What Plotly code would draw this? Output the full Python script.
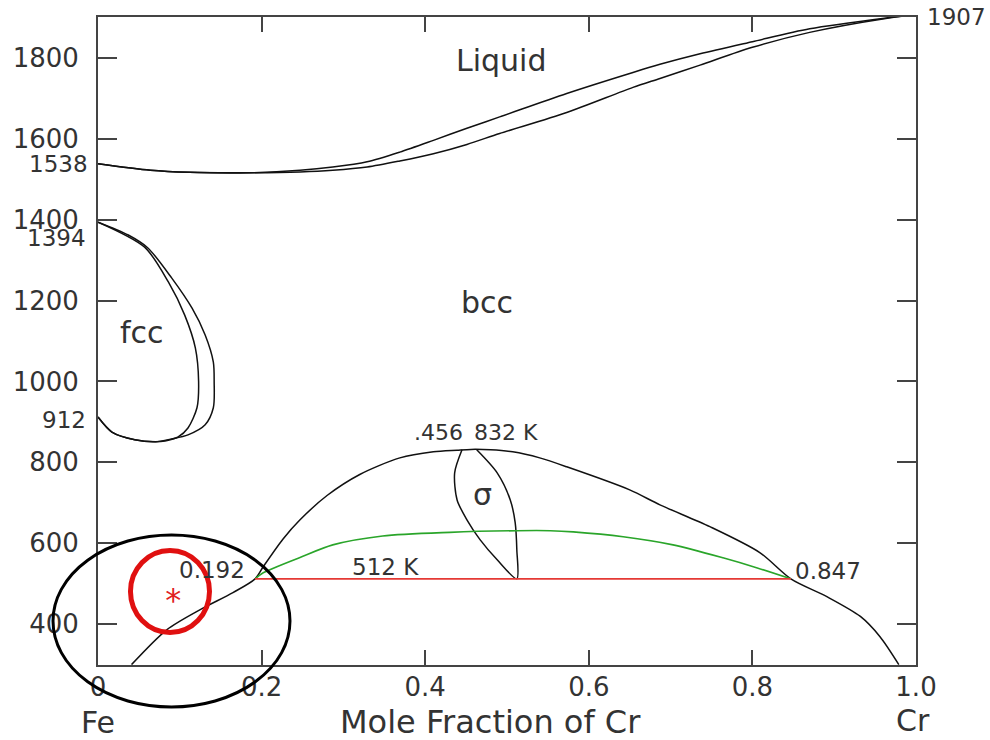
import plotly.graph_objects as go

# ---------------- data ----------------
liq_x = [0, .064, .112, .186, .247, .287, .329, .369, .41, .451, .491, .573, .654, .687, .736, .80, .87, .965, 1.0]
liq_y = [1538, 1522, 1517, 1516, 1522, 1530, 1543, 1567, 1596, 1626, 1654, 1712, 1764, 1784, 1810, 1840, 1872, 1899, 1907]
sol_x = [0, .064, .112, .186, .247, .287, .329, .369, .41, .451, .491, .573, .654, .687, .736, .80, .87, .965, 1.0]
sol_y = [1538, 1522, 1517, 1516, 1518, 1522, 1530, 1545, 1563, 1586, 1613, 1665, 1727, 1749, 1782, 1826, 1863, 1898, 1907]

gam_out_x = [0, .037, .061, .090, .115, .131, .141, .142, .141, .131, .110, .090, .070, .045, .017, 0]
gam_out_y = [1394, 1362, 1330, 1256, 1181, 1115, 1048, 999, 935, 893, 868, 858, 851, 856, 875, 912]
gam_in_x = [0, .057, .086, .106, .119, .123, .121, .110, .098, .082, .070, .045, .017, 0]
gam_in_y = [1394, 1332, 1246, 1164, 1083, 999, 935, 885, 863, 853, 851, 856, 875, 912]

dome_x = [.041, .084, .125, .165, .192, .202, .226, .247, .280, .320, .369, .410, .439, .456,
          .480, .507, .540, .573, .650, .687, .748, .809, .847, .891, .932, .956, .979]
dome_y = [300, 386, 436, 478, 512, 542, 610, 658, 718, 770, 811, 826, 830, 832,
          831, 826, 811, 789, 732, 695, 641, 577, 512, 468, 419, 369, 300]

sig_x = [.445, .436, .439, .451, .467, .488, .512, .512, .510, .504, .488, .463]
sig_y = [831, 774, 707, 658, 609, 559, 512, 584, 651, 707, 774, 831]

green_x = [.192, .202, .247, .287, .348, .430, .512, .553, .581, .642, .703, .764, .806, .847]
green_y = [512, 527, 565, 596, 618, 627, 631, 631, 628, 616, 596, 564, 539, 512]

tie_x = [.192, .847]
tie_y = [512, 512]

star_x = [0.092]
star_y = [452]

x_ticks = [0, 0.2, 0.4, 0.6, 0.8, 1.0]
x_ticktext = ["0", "0.2", "0.4", "0.6", "0.8", "1.0"]
y_ticks = [400, 600, 800, 1000, 1200, 1400, 1600, 1800]

FONT = "DejaVu Sans"
TXT = "#333333"

fig = go.Figure()

def curve(x, y, color="#111111", width=1.5, shape="spline"):
    fig.add_trace(go.Scatter(x=x, y=y, mode="lines",
                             line=dict(color=color, width=width, shape=shape, smoothing=0.8),
                             hoverinfo="skip", showlegend=False))

curve(liq_x, liq_y)
curve(sol_x, sol_y)
curve(gam_out_x, gam_out_y)
curve(gam_in_x, gam_in_y)
curve(dome_x, dome_y)
curve(sig_x, sig_y)
curve(green_x, green_y, color="#2aa52a", width=1.6)
curve(tie_x, tie_y, color="#e53935", width=1.6, shape="linear")

fig.add_trace(go.Scatter(x=star_x, y=star_y, mode="text", text=["*"],
                         textfont=dict(family=FONT, size=32, color="#e02020"),
                         textposition="middle center", hoverinfo="skip", showlegend=False))

axis_common = dict(showline=True, linecolor="#444444", linewidth=2, mirror="ticks",
                   ticks="inside", tickcolor="#444444", tickwidth=2,
                   showgrid=False, zeroline=False,
                   tickfont=dict(family=FONT, size=26, color=TXT))

fig.update_xaxes(range=[0, 1], tickvals=x_ticks, ticktext=x_ticktext, ticklen=15,
                 ticklabelstandoff=-2, **axis_common)
fig.update_yaxes(range=[299, 1901], tickvals=y_ticks, ticklen=19,
                 ticklabelstandoff=12, **axis_common)

def ann(text, x, y, size, xref="x", yref="y", xanchor="center", color=TXT, yshift=0):
    fig.add_annotation(text=text, x=x, y=y, xref=xref, yref=yref, showarrow=False,
                       xanchor=xanchor, yanchor="middle", yshift=yshift,
                       font=dict(family=FONT, size=size, color=color))

ann("Liquid", 0.493, 1794, 30)
ann("bcc", 0.476, 1194, 30)
ann("fcc", 0.054, 1120, 30)
ann("σ", 0.470, 720, 30)
ann(".456\u2002832 K", 0.462, 875, 22)
ann("512 K", 0.352, 542, 23)
ann("0.192", 0.139, 535, 23)
ann("0.847", 0.893, 532, 23)
ann("1907", 1.049, 1.0, 23, xref="paper", yref="paper")
ann("1538", -0.0098, 1538, 23, xref="paper", xanchor="right")
ann("1394", -0.0122, 1354, 23, xref="paper", xanchor="right")
ann("912", -0.0122, 905, 23, xref="paper", xanchor="right")
ann("Fe", 0.0, -0.0895, 30, xref="paper", yref="paper")
ann("Cr", 0.9963, -0.0864, 30, xref="paper", yref="paper")
ann("Mole Fraction of Cr", 0.4804, -0.088, 32, xref="paper", yref="paper")

# highlight ellipses (paper coordinates)
fig.add_shape(type="circle", xref="paper", yref="paper",
              x0=-0.055, x1=0.2347, y0=-0.0648, y1=0.2006,
              line=dict(color="#000000", width=3))
fig.add_shape(type="circle", xref="paper", yref="paper",
              x0=0.0397, x1=0.1363, y0=0.0502, y1=0.1767,
              line=dict(color="#e01010", width=5))

fig.update_layout(width=990, height=740, margin=dict(l=98, r=74, t=17, b=75),
                  paper_bgcolor="white", plot_bgcolor="white",
                  font=dict(family=FONT, color=TXT))

# remove the browser's default body margin so the figure fills the window exactly
fig.write_html("out.html",
               config={"displayModeBar": False},
               post_script="document.body.style.margin='0';document.body.style.overflow='hidden';")
